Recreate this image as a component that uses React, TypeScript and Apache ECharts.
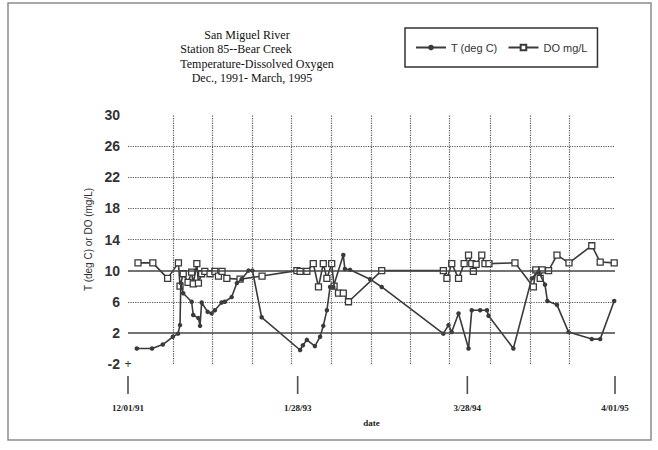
import React, { useEffect, useRef } from 'react';
import * as echarts from 'echarts';

// ---- Data ----
const titleLines = ['San Miguel River', 'Station 85--Bear Creek', 'Temperature-Dissolved Oxygen', 'Dec., 1991- March, 1995'];
const seriesNames = ['T (deg C)', 'DO mg/L'];
const yAxisName = 'T (deg C) or DO (mg/L)';
const xAxisName = 'date';

const xStart = '1991-12-01';
const xEnd = '1995-04-01';
const xTickDates = ['1991-12-01', '1993-01-28', '1994-03-28', '1995-04-01'];
const gridDates = ['1992-03-22', '1992-06-29', '1992-10-07', '1993-01-13', '1993-04-21', '1993-07-30', '1993-11-05', '1994-02-11', '1994-05-24', '1994-09-01', '1994-12-08'];
const solidLevels = [10, 2];
const yMin = -2;
const yMax = 30;
const yStep = 4;

const tDates = [
  '1991-12-23', '1992-01-30', '1992-02-26', '1992-03-22', '1992-04-04', '1992-04-09', '1992-04-11', '1992-04-17',
  '1992-05-08', '1992-05-12', '1992-05-25', '1992-05-29', '1992-06-02', '1992-06-17', '1992-06-27', '1992-07-05',
  '1992-07-22', '1992-07-30', '1992-08-16', '1992-08-29', '1992-09-10', '1992-09-27', '1992-10-07', '1992-10-30',
  '1993-02-03', '1993-02-10', '1993-02-20', '1993-03-12', '1993-03-25', '1993-04-02', '1993-04-11', '1993-04-19',
  '1993-04-27', '1993-05-22', '1993-05-26', '1993-06-08', '1993-07-28', '1993-08-26',
  '1994-01-27', '1994-02-09', '1994-02-17', '1994-03-06', '1994-03-31', '1994-04-08', '1994-04-29', '1994-05-16',
  '1994-05-20', '1994-07-21', '1994-09-05', '1994-09-22', '1994-10-08', '1994-10-14', '1994-11-07', '1994-12-06',
  '1995-02-02', '1995-02-23', '1995-03-30',
];
const tValues = [
  0.0, 0.0, 0.5, 1.5, 1.9, 3.0, 8.4, 7.1,
  6.0, 4.3, 3.9, 2.9, 5.9, 4.7, 4.5, 4.9,
  5.9, 6.0, 6.6, 8.4, 8.9, 10.0, 10.0, 4.0,
  -0.2, 0.4, 1.1, 0.3, 1.5, 2.9, 4.9, 7.9,
  7.9, 12.0, 10.2, 10.1, 8.9, 7.9,
  1.9, 3.0, 2.1, 4.5, 0.0, 4.9, 4.9, 4.9,
  4.2, 0.0, 9.0, 9.9, 8.2, 6.1, 5.6, 2.1,
  1.2, 1.2, 6.1,
];

const doDates = [
  '1991-12-26', '1992-02-01', '1992-03-09', '1992-04-05', '1992-04-09', '1992-04-17', '1992-04-29', '1992-05-08',
  '1992-05-12', '1992-05-21', '1992-05-25', '1992-06-02', '1992-06-10', '1992-06-23', '1992-07-05', '1992-07-14',
  '1992-07-23', '1992-08-04', '1992-09-06', '1992-10-31',
  '1993-01-26', '1993-02-03', '1993-02-20', '1993-03-08', '1993-03-21', '1993-04-02', '1993-04-11', '1993-04-23',
  '1993-04-29', '1993-05-10', '1993-05-22', '1993-06-04', '1993-08-26',
  '1994-01-27', '1994-02-05', '1994-02-17', '1994-03-06', '1994-03-20', '1994-03-31', '1994-04-08', '1994-04-12',
  '1994-04-19', '1994-05-03', '1994-05-11', '1994-05-21', '1994-07-25', '1994-09-09', '1994-09-15', '1994-09-26',
  '1994-10-01', '1994-10-17', '1994-11-07', '1994-12-07', '1995-02-02', '1995-02-23', '1995-03-30',
];
const doValues = [
  11.0, 11.0, 9.0, 11.0, 8.0, 9.6, 8.5, 9.8,
  8.3, 10.9, 8.4, 9.6, 9.9, 9.6, 9.9, 9.3,
  9.9, 9.0, 8.9, 9.3,
  10.0, 9.9, 9.9, 10.9, 7.9, 10.9, 9.0, 10.9,
  8.0, 7.1, 7.1, 6.0, 10.0,
  10.0, 9.0, 10.9, 9.0, 10.9, 12.0, 10.9, 9.9,
  10.8, 12.0, 10.9, 10.9, 11.0, 7.9, 10.1, 9.0,
  10.1, 10.0, 12.0, 11.0, 13.2, 11.1, 11.0,
];

// ---- helpers: dates -> days since the first axis date ----
const DAY = 86400000;
const utc = (s: string) => {
  const [y, m, d] = s.split('-').map(Number);
  return Date.UTC(y, m - 1, d);
};
const origin = utc(xStart);
const day = (s: string) => Math.round((utc(s) - origin) / DAY);
const fmtDay = (v: number) => {
  const dt = new Date(origin + Math.round(v) * DAY);
  const m = dt.getUTCMonth() + 1;
  const d = String(dt.getUTCDate()).padStart(2, '0');
  const y = String(dt.getUTCFullYear() % 100).padStart(2, '0');
  return `${m}/${d}/${y}`;
};

export default function App() {
  const ref = useRef<HTMLDivElement>(null);

  useEffect(() => {
    if (!ref.current) return;
    const chart = echarts.init(ref.current, null, { renderer: 'svg' });
    const ink = '#3a3a3a';
    const tickDays = xTickDates.map(day);
    const titleCenters = [247, 236, 257, 252];

    const splitColors: string[] = [];
    for (let v = yMin; v <= yMax; v += yStep) {
      splitColors.push(v === yMin || v === yMax || solidLevels.includes(v) ? 'rgba(0,0,0,0)' : '#555');
    }

    chart.setOption({
      animation: false,
      backgroundColor: '#ffffff',
      textStyle: { fontFamily: 'Liberation Sans' },
      graphic: [
        {
          type: 'rect',
          silent: true,
          shape: { x: 8, y: 3, width: 643, height: 437 },
          style: { fill: 'none', stroke: '#8c8c8c', lineWidth: 1.5 },
        },
        ...titleLines.map((t, i) => ({
          type: 'text',
          silent: true,
          x: titleCenters[i],
          y: 35 + i * 14.3,
          style: {
            text: t,
            textAlign: 'center',
            textVerticalAlign: 'middle',
            fontFamily: 'Liberation Serif',
            fontSize: 12,
            fill: '#111',
          },
        })),
        {
          type: 'text',
          silent: true,
          x: 128,
          y: 364,
          style: {
            text: '+',
            textAlign: 'center',
            textVerticalAlign: 'middle',
            fontFamily: 'Liberation Sans',
            fontSize: 12,
            fill: '#333',
          },
        },
      ],
      legend: {
        left: 405,
        top: 28,
        padding: [14, 10, 14, 10],
        itemWidth: 30,
        itemHeight: 7,
        itemGap: 10,
        borderColor: '#333',
        borderWidth: 1.5,
        textStyle: { fontFamily: 'Liberation Sans', fontSize: 11, color: '#333' },
        data: seriesNames,
      },
      grid: [
        { left: 128, right: 43, top: 115, bottom: 86 },
        { left: 128, right: 43, top: 376, height: 18 },
      ],
      xAxis: [
        {
          gridIndex: 0,
          type: 'value',
          min: 0,
          max: day(xEnd),
          offset: 12,
          name: xAxisName,
          nameLocation: 'middle',
          nameGap: 42,
          nameTextStyle: { fontFamily: 'Liberation Serif', fontWeight: 'bold', fontSize: 9, color: '#222' },
          axisLine: { show: false },
          axisTick: { show: false },
          axisLabel: {
            customValues: tickDays,
            formatter: (v: number) => fmtDay(v),
            margin: 27,
            fontFamily: 'Liberation Serif',
            fontWeight: 'bold',
            fontSize: 9,
            color: '#222',
          },
          splitLine: { show: false },
        },
        {
          gridIndex: 1,
          type: 'value',
          min: 0,
          max: day(xEnd),
          show: false,
        },
      ],
      yAxis: [
        {
          gridIndex: 0,
          type: 'value',
          min: yMin,
          max: yMax,
          interval: yStep,
          name: yAxisName,
          nameLocation: 'middle',
          nameGap: 28,
          nameTextStyle: { fontFamily: 'Liberation Sans', fontSize: 10, color: '#333' },
          axisLine: { show: false },
          axisTick: { show: false },
          axisLabel: { fontFamily: 'Liberation Sans', fontSize: 14, fontWeight: 'bold', color: '#333', margin: 8 },
          splitLine: { show: true, lineStyle: { type: 'dotted', width: 1.2, color: splitColors } },
        },
        {
          gridIndex: 1,
          type: 'value',
          min: 0,
          max: 1,
          show: false,
        },
      ],
      series: [
        {
          name: seriesNames[1],
          type: 'line',
          data: doDates.map((d, i) => [day(d), doValues[i]]),
          symbol: 'rect',
          symbolSize: 6,
          itemStyle: { color: '#ffffff', borderColor: ink, borderWidth: 1.3 },
          lineStyle: { color: ink, width: 1.6 },
          z: 3,
        },
        {
          name: seriesNames[0],
          type: 'line',
          data: tDates.map((d, i) => [day(d), tValues[i]]),
          symbol: 'circle',
          symbolSize: 4.5,
          itemStyle: { color: ink },
          lineStyle: { color: ink, width: 1.6 },
          z: 4,
          markLine: {
            silent: true,
            symbol: 'none',
            label: { show: false },
            emphasis: { disabled: true },
            data: [
              ...gridDates.map((d) => ({ xAxis: day(d), lineStyle: { type: 'dotted', color: '#555', width: 1.2 } })),
              ...solidLevels.map((v) => ({ yAxis: v, lineStyle: { type: 'solid', color: '#444', width: 1.5 } })),
            ],
          },
        },
        {
          name: 'date ticks',
          type: 'scatter',
          xAxisIndex: 1,
          yAxisIndex: 1,
          silent: true,
          clip: false,
          data: tickDays.map((d) => [d, 0.5]),
          symbol: 'rect',
          symbolSize: [1.6, 18],
          itemStyle: { color: '#222' },
        },
      ],
    });

    return () => chart.dispose();
  }, []);

  return <div ref={ref} style={{ position: 'fixed', left: 0, top: 0, width: 658, height: 450 }} />;
}
